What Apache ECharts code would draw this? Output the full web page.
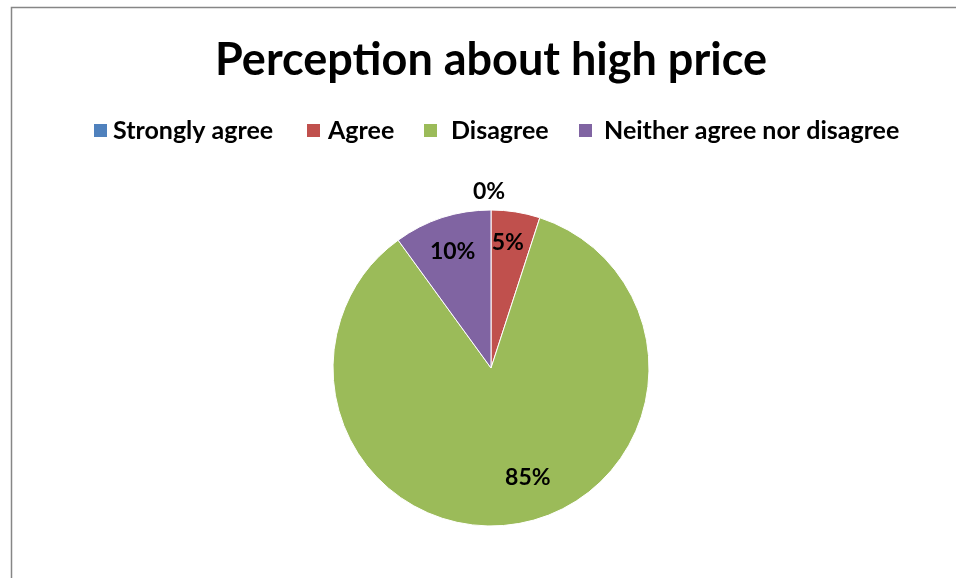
<!DOCTYPE html>
<html>
<head>
<meta charset="utf-8">
<script src="https://cdn.jsdelivr.net/npm/echarts@6/dist/echarts.min.js"></script>
<style>
html,body{margin:0;padding:0;background:#fff;}
#chart{width:956px;height:578px;}
</style>
</head>
<body>
<div id="chart"></div>
<script>
const titleText = 'Perception about high price';
const categories = ['Strongly agree', 'Agree', 'Disagree', 'Neither agree nor disagree'];
const values = [0, 5, 85, 10];
const colors = ['#4F81BD', '#C0504D', '#9BBB59', '#8064A2'];
const labelOffsets = [[-2, -94], [4, -44], [24, 29], [-13, -38]];
const legendLefts = [92, 305, 422, 577];
const legendTextPads = [0, 2, 8, 6];

const chart = echarts.init(document.getElementById('chart'));
const fontFam = 'Lato, "Open Sans", sans-serif';
chart.setOption({
  animation: false,
  graphic: [{
    type: 'rect',
    shape: {x: 11.5, y: 7.5, width: 1200, height: 1200},
    style: {fill: 'none', stroke: '#868686', lineWidth: 1.5},
    silent: true
  }],
  title: {
    text: titleText,
    left: 486,
    textAlign: 'center',
    top: 33,
    textStyle: {fontFamily: fontFam, fontWeight: 'bold', fontSize: 45, color: '#000'}
  },
  legend: categories.map((c, i) => ({
    data: [c],
    left: legendLefts[i],
    top: 118,
    padding: 0,
    icon: 'rect',
    itemWidth: 15,
    itemHeight: 15,
    textStyle: {fontFamily: fontFam, fontWeight: 'bold', fontSize: 25, color: '#000',
      padding: [0, 0, 0, legendTextPads[i]]}
  })),
  series: [{
    type: 'pie',
    center: [491, 368],
    radius: 158,
    startAngle: 90,
    clockwise: true,
    avoidLabelOverlap: false,
    itemStyle: {borderColor: '#fff', borderWidth: 1},
    label: {
      show: true,
      position: 'inside',
      formatter: '{c}%',
      fontFamily: fontFam,
      fontWeight: 'bold',
      fontSize: 23,
      color: '#000'
    },
    labelLine: {show: false},
    emphasis: {disabled: true},
    data: categories.map((n, i) => ({
      name: n,
      value: values[i],
      itemStyle: {color: colors[i]},
      label: {offset: labelOffsets[i]}
    }))
  }]
});
</script>
</body>
</html>
